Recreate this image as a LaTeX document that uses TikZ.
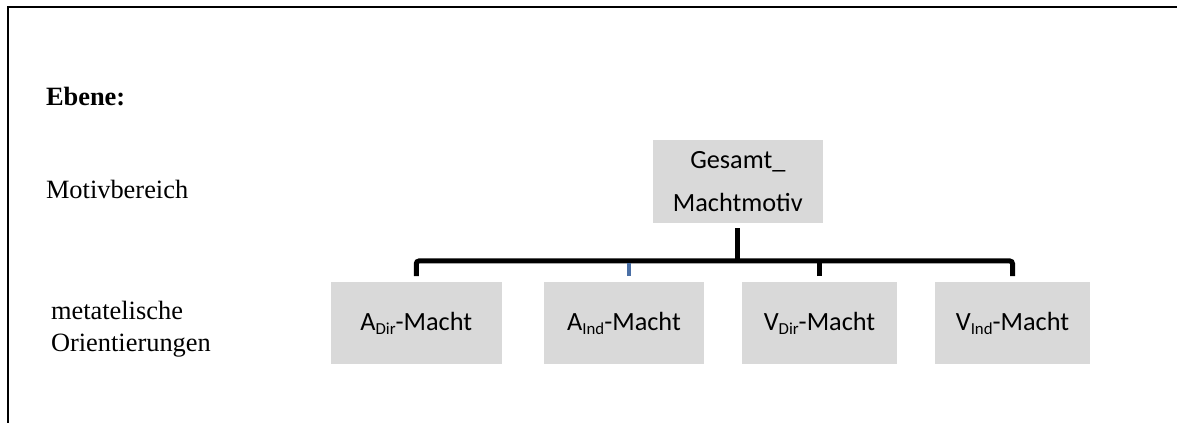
\documentclass[tikz,border=0pt]{standalone}
\usepackage{fontspec}
\setmainfont{Liberation Serif}
\newfontfamily\boxfont{Carlito}
\usetikzlibrary{calc, positioning}
\definecolor{boxgrey}{HTML}{D9D9D9}
\definecolor{stemblue}{HTML}{4A6FA5}
\newcommand{\subtxt}[1]{\raisebox{-3.4pt}{\fontsize{12.6}{12.6}\selectfont #1}}
\tikzset{
  lbl/.style={inner sep=0pt, outer sep=0pt, font=\fontsize{19.8}{24}\selectfont},
  stem/.style={line width=3.75pt, black},
  bluestem/.style={line width=3pt, stemblue}
}

\begin{document}
\begin{tikzpicture}[x=0.75pt, y=-0.75pt]
  \tikzset{el/.style={rectangle, fill=boxgrey, inner sep=0pt, minimum height=61.5pt, align=center, font=\boxfont\fontsize{19.7}{32.3}\selectfont}};
  \useasboundingbox (0,0) rectangle (1177,423);

  % frame
  \draw[line width=1.5pt] (7.5,423) -- (7.5,7.5) -- (1177,7.5);

  % levels
  \node[lbl, anchor=base west, font=\bfseries\fontsize{19.8}{24}\selectfont] (ebene) at (46,106) {Ebene:};
  \node[lbl, anchor=base west] (motiv) at (46,199) {Motivbereich};
  \node[lbl, anchor=base west, align=left] (orient) at (51,351.7) {metatelische\\Orientierungen};

  % boxes
  \node[el, minimum width=127.5pt, minimum height=62pt] (gesamt) at (737.8,181.4) {Gesamt\_\\Machtmotiv};
  \node[el, minimum width=128pt] (adir) at (416.3,323.5) {A\subtxt{Dir}-Macht};
  \node[el, minimum width=120pt] (aind) at (624,323.5) {A\subtxt{Ind}-Macht};
  \node[el, minimum width=116pt] (vdir) at (819.5,323.5) {V\subtxt{Dir}-Macht};
  \node[el, minimum width=116pt] (vind) at (1012.5,323.5) {V\subtxt{Ind}-Macht};

  % connectors
  \coordinate (bus) at (737.8,261);
  \draw[stem, shorten <=4pt] (gesamt.south) -- (bus);
  \draw[stem, rounded corners=2pt, shorten <=4.5pt, shorten >=4.5pt] (adir.north) -- (adir.north |- bus) -- (vind.north |- bus) -- (vind.north);
  \draw[stem, shorten <=4.5pt] (vdir.north) -- (vdir.north |- bus);
  \draw[bluestem, shorten <=4.5pt, shorten >=1.5pt] ([xshift=3.75pt]aind.north) -- ([xshift=3.75pt]aind.north |- bus);
\end{tikzpicture}
\end{document}
